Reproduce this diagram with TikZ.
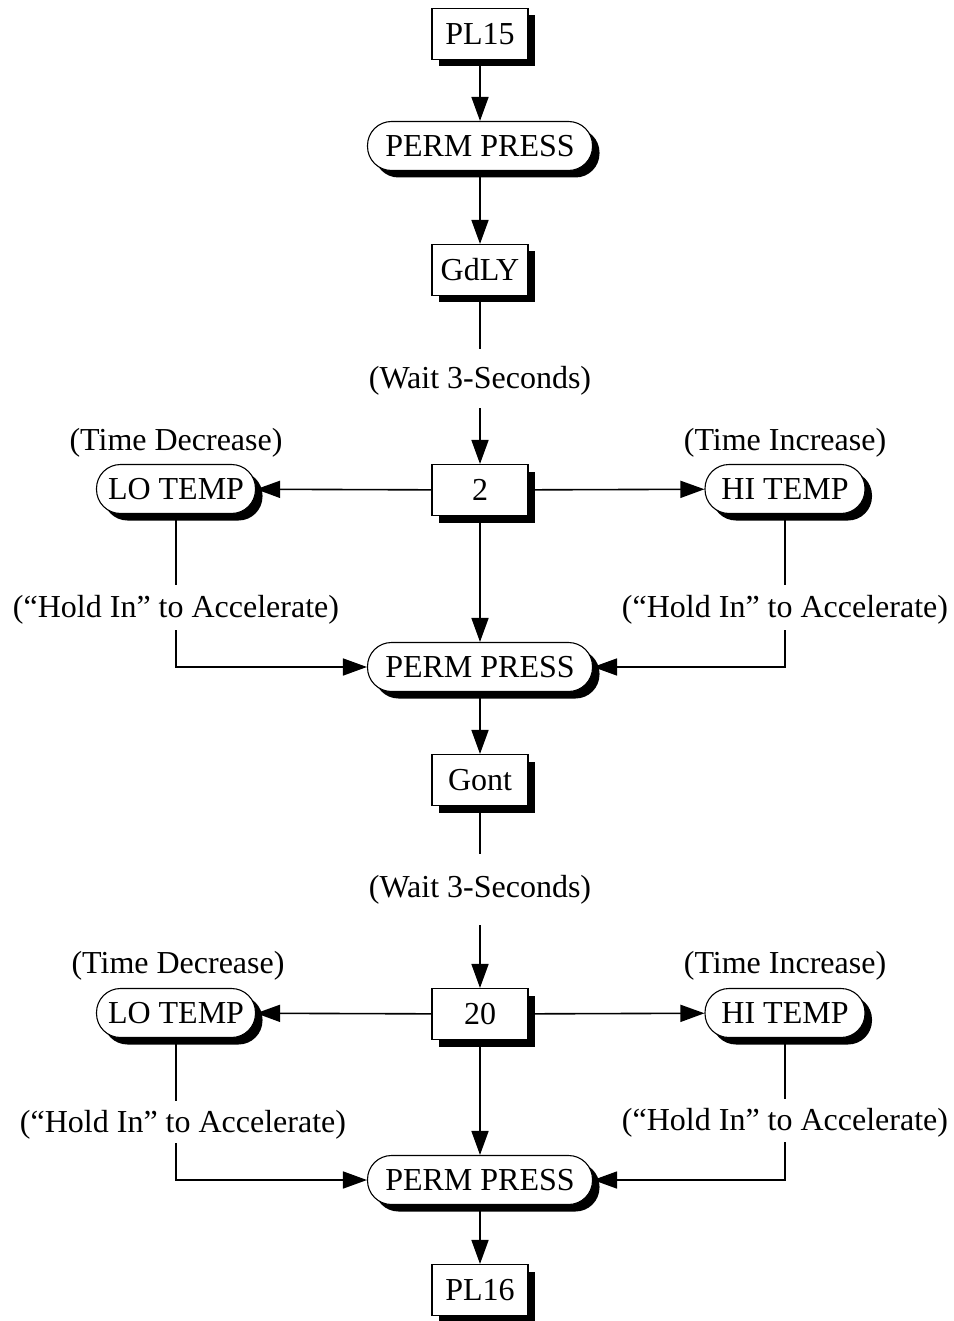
\documentclass[tikz,border=0pt]{standalone}
\usepackage{fontspec}
\setmainfont{Liberation Serif}
\usetikzlibrary{arrows.meta,shadows}
\begin{document}
\begin{tikzpicture}[x=1pt,y=-1pt,
  font=\fontsize{32}{36}\selectfont,
  shad/.style={drop shadow={shadow xshift=7pt,shadow yshift=-7pt,fill=black,opacity=1}},
  boxnode/.style={draw,line width=1.1pt,fill=white,minimum width=96pt,minimum height=51pt,inner sep=0pt,shad},
  pill/.style={draw,line width=1.1pt,fill=white,rectangle,rounded corners=24pt,minimum height=49pt,inner xsep=8pt,inner ysep=0pt,shad},
  lbl/.style={inner sep=0pt},
  conn/.style={line width=1.6pt},
  arr/.style={line width=1.6pt,-{Triangle[length=24pt,width=17pt]}}
]
\useasboundingbox (0,0) rectangle (953,1321);

\node[boxnode] (pl15) at (480,34) {PL15};
\node[pill,minimum width=225pt] (pp1) at (480,146) {PERM PRESS};
\node[boxnode] (gdly) at (480,270) {GdLY};
\node[lbl] (w1) at (480,381) {(Wait 3-Seconds)};
\coordinate (w1a) at (480,349);
\coordinate (w1b) at (480,408);
\node[boxnode] (b2) at (480,490) {2};
\node[pill,minimum width=159pt] (lo1) at (176,489) {LO TEMP};
\node[pill,minimum width=160pt] (hi1) at (785,489) {HI TEMP};
\node[lbl] at (176,443) {(Time Decrease)};
\node[lbl] at (785,443) {(Time Increase)};
\node[lbl] (h1) at (176,610) {(“Hold In” to Accelerate)};
\node[lbl] (h2) at (785,610) {(“Hold In” to Accelerate)};
\coordinate (h1a) at (176,585);
\coordinate (h1b) at (176,630);
\coordinate (h2a) at (785,585);
\coordinate (h2b) at (785,630);
\node[pill,minimum width=225pt] (pp2) at (480,667) {PERM PRESS};
\node[boxnode] (gont) at (480,780) {Gont};
\node[lbl] (w2) at (480,890) {(Wait 3-Seconds)};
\coordinate (w2a) at (480,854);
\coordinate (w2b) at (480,925);
\node[boxnode] (b20) at (480,1014) {20};
\node[pill,minimum width=159pt] (lo2) at (176,1013) {LO TEMP};
\node[pill,minimum width=160pt] (hi2) at (785,1013) {HI TEMP};
\node[lbl] at (178,966) {(Time Decrease)};
\node[lbl] at (785,966) {(Time Increase)};
\node[lbl] (h3) at (183,1125) {(“Hold In” to Accelerate)};
\node[lbl] (h4) at (785,1123) {(“Hold In” to Accelerate)};
\coordinate (h3a) at (176,1101);
\coordinate (h3b) at (176,1143);
\coordinate (h4a) at (785,1099);
\coordinate (h4b) at (785,1142);
\node[pill,minimum width=225pt] (pp3) at (480,1180) {PERM PRESS};
\node[boxnode] (pl16) at (480,1290) {PL16};

\draw[arr] (pl15) -- (pp1);
\draw[arr] (pp1) -- (gdly);
\draw[conn] (gdly) -- (w1a);
\draw[arr] (w1b) -- (b2);
\draw[arr] (b2) -- (lo1);
\draw[arr] (b2) -- (hi1);
\draw[arr] (b2) -- (pp2);
\draw[conn] (lo1.south) -- (h1a);
\draw[conn] (hi1.south) -- (h2a);
\draw[arr] (h1b) |- (pp2.west);
\draw[arr] (h2b) |- (pp2.east);
\draw[arr] (pp2) -- (gont);
\draw[conn] (gont) -- (w2a);
\draw[arr] (w2b) -- (b20);
\draw[arr] (b20) -- (lo2);
\draw[arr] (b20) -- (hi2);
\draw[arr] (b20) -- (pp3);
\draw[conn] (lo2.south) -- (h3a);
\draw[conn] (hi2.south) -- (h4a);
\draw[arr] (h3b) |- (pp3.west);
\draw[arr] (h4b) |- (pp3.east);
\draw[arr] (pp3) -- (pl16);
\end{tikzpicture}
\end{document}
